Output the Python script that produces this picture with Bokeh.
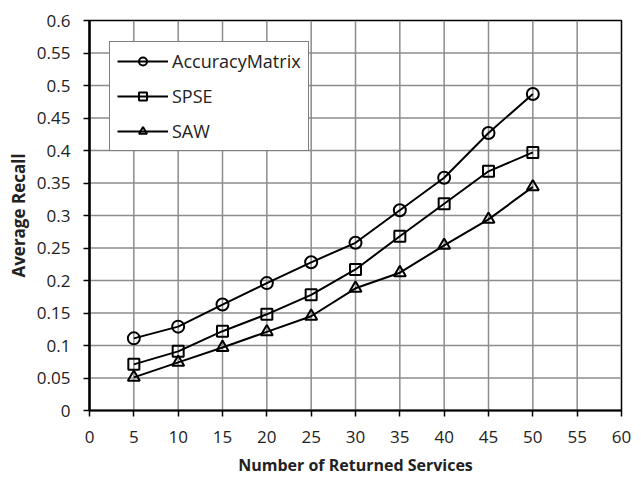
from bokeh.plotting import figure
from bokeh.models import Range1d, FixedTicker
from bokeh.embed import file_html
from bokeh.resources import INLINE

# ---- data ----
x_vals = [5, 10, 15, 20, 25, 30, 35, 40, 45, 50]
accuracy_matrix = [0.111, 0.129, 0.163, 0.196, 0.228, 0.258, 0.308, 0.358, 0.427, 0.487]
spse = [0.071, 0.091, 0.122, 0.148, 0.178, 0.217, 0.268, 0.318, 0.368, 0.397]
saw = [0.051, 0.074, 0.097, 0.121, 0.145, 0.188, 0.212, 0.254, 0.294, 0.344]

series_names = ["AccuracyMatrix", "SPSE", "SAW"]
series_markers = ["circle", "square", "triangle"]

x_ticks = [0, 5, 10, 15, 20, 25, 30, 35, 40, 45, 50, 55, 60]
y_ticks = [0, 0.05, 0.1, 0.15, 0.2, 0.25, 0.3, 0.35, 0.4, 0.45, 0.5, 0.55, 0.6]
y_tick_labels = ["0", "0.05", "0.1", "0.15", "0.2", "0.25", "0.3", "0.35", "0.4", "0.45", "0.5", "0.55", "0.6"]

X_MIN, X_MAX = x_ticks[0], x_ticks[-1]
Y_MIN, Y_MAX = y_ticks[0], y_ticks[-1]

FONT = "Open Sans"

p = figure(width=641, height=478, output_backend="svg", toolbar_location=None,
           x_range=Range1d(X_MIN, X_MAX), y_range=Range1d(Y_MIN, Y_MAX),
           min_border_left=89, min_border_right=20, min_border_top=20, min_border_bottom=68)
p.background_fill_color = "white"
p.border_fill_color = "white"
p.outline_line_color = "black"
p.outline_line_width = 1.5

# axes / ticks
xt = FixedTicker(ticks=x_ticks)
yt = FixedTicker(ticks=y_ticks)
p.xaxis.ticker = xt
p.yaxis.ticker = yt
p.yaxis.major_label_overrides = {t: l for t, l in zip(y_ticks, y_tick_labels)}

# grid drawn as thin grey segments at the tick positions
p.xgrid.grid_line_color = None
p.ygrid.grid_line_color = None
gx = x_ticks[1:-1]
gy = y_ticks[1:-1]
p.segment(x0=gx, y0=[Y_MIN] * len(gx), x1=gx, y1=[Y_MAX] * len(gx),
          line_color="#8c8c8c", line_width=1.5)
p.segment(x0=[X_MIN] * len(gy), y0=gy, x1=[X_MAX] * len(gy), y1=gy,
          line_color="#8c8c8c", line_width=1.5)

for ys, name, mk in zip([accuracy_matrix, spse, saw], series_names, series_markers):
    p.line(x_vals, ys, line_color="black", line_width=2, legend_label=name)
    p.scatter(x_vals, ys, marker=mk, size=12 if mk != "square" else 11,
              line_color="black", line_width=2, fill_color=None, legend_label=name)

for ax in (p.xaxis, p.yaxis):
    ax.axis_line_color = "black"
    ax.major_tick_line_color = "black"
    ax.major_tick_line_width = 1.5
    ax.major_tick_in = 0
    ax.major_tick_out = 6
    ax.minor_tick_line_color = None
    ax.major_label_text_font = FONT
    ax.major_label_text_font_size = "17px"
    ax.major_label_text_color = "#222222"
    ax.axis_label_text_font = FONT
    ax.axis_label_text_font_style = "bold"
    ax.axis_label_text_color = "#222222"

p.xaxis.axis_label_text_font_size = "16px"
p.yaxis.axis_label_text_font_size = "17px"
p.yaxis.axis_line_width = 2.5
p.xaxis.axis_line_width = 2
p.yaxis.major_label_standoff = 13
p.xaxis.major_label_standoff = 14
p.yaxis.axis_label_standoff = 4
p.xaxis.axis_label_standoff = 8
p.xaxis.axis_label = "Number of Returned Services"
p.yaxis.axis_label = "Average Recall"

# legend
lg = p.legend[0]
lg.location = (20, 259)
lg.border_line_color = "black"
lg.border_line_width = 1.5
lg.background_fill_color = "white"
lg.background_fill_alpha = 1
lg.label_text_font = FONT
lg.label_text_font_size = "18px"
lg.label_text_color = "#222222"
lg.glyph_width = 51
lg.glyph_height = 20
lg.label_height = 20
lg.label_standoff = 4
lg.spacing = 11
lg.padding = 7
lg.margin = 0

open("out.html", "w").write(file_html(p, INLINE))
